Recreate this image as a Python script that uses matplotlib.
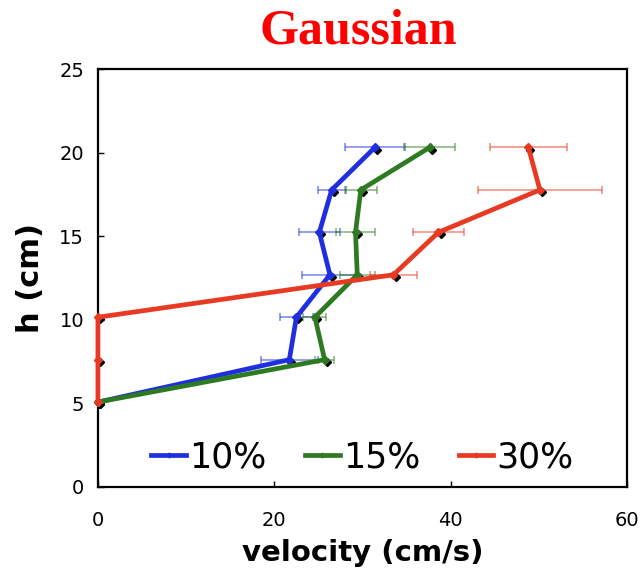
import matplotlib
matplotlib.use('Agg')
import matplotlib.pyplot as plt
import matplotlib.transforms as mtransforms

# heights of the probes (cm)
heights = [5.08, 7.62, 10.16, 12.70, 15.24, 17.78, 20.32]

# mean velocity (cm/s) and spread for each concentration
v_10 = [0.0, 21.7, 22.5, 26.3, 25.1, 26.5, 31.4]
e_10 = [0.0, 3.2, 1.9, 3.2, 2.3, 1.6, 3.4]
v_15 = [0.0, 25.7, 24.6, 29.4, 29.2, 29.8, 37.6]
e_15 = [0.0, 1.1, 1.3, 2.0, 2.2, 1.8, 2.9]
v_30 = [0.0, 0.0, 0.0, 33.5, 38.6, 50.1, 48.8]
e_30 = [0.0, 0.0, 0.0, 2.7, 2.9, 7.0, 4.4]

labels = ['10%', '15%', '30%']
colors = ['#1f2fe0', '#2e7a22', '#e83a22']

fig = plt.figure(figsize=(6.4, 5.77), dpi=100)
ax = fig.add_axes([0.153, 0.156, 0.827, 0.724])

shadow = mtransforms.offset_copy(ax.transData, fig=fig, x=1.5, y=-1.5, units='points')

for v, e, lab, c in zip([v_10, v_15, v_30], [e_10, e_15, e_30], labels, colors):
    ax.errorbar(v, heights, xerr=e, fmt='none', ecolor=c, alpha=0.55,
                elinewidth=1.2, capsize=3, capthick=1.2, zorder=2)
    ax.plot(v, heights, 'D', color='black', markersize=4, transform=shadow,
            zorder=3, clip_on=False)
    ax.plot(v, heights, '-D', color=c, lw=3.4, markersize=4, label=lab,
            zorder=4, clip_on=False)

ax.set_xlim(0, 60)
ax.set_ylim(0, 25)
ax.set_xticks([0, 20, 40, 60])
ax.set_yticks([0, 5, 10, 15, 20, 25])
ax.tick_params(direction='in', length=4, labelsize=14, width=1)
ax.tick_params(axis='x', pad=17)
ax.tick_params(axis='y', pad=10)
for s in ax.spines.values():
    s.set_linewidth(1.6)

ax.set_xlabel('velocity (cm/s)', fontsize=21, fontweight='bold', labelpad=7)
ax.set_ylabel('h (cm)', fontsize=22, fontweight='bold', labelpad=10)
fig.text(0.56, 0.946, 'Gaussian', ha='center', va='center', color='red',
         fontsize=36, fontweight='bold', family='Liberation Serif')

ax.legend(loc='lower center', ncol=3, frameon=False, fontsize=25,
          handlelength=1.0, handletextpad=0.1, columnspacing=1.1,
          bbox_to_anchor=(0.5, -0.045), markerscale=0.6)

fig.savefig('out.png', dpi=100)
